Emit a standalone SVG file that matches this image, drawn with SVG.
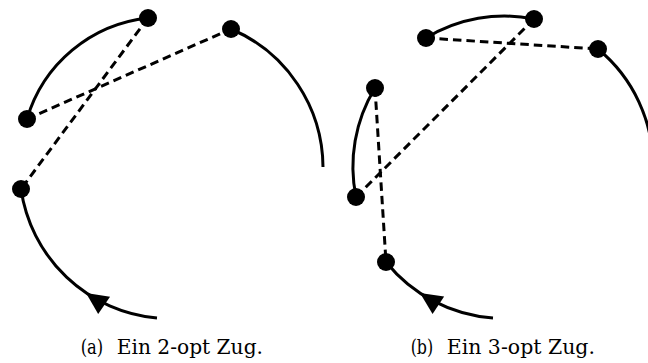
<svg xmlns="http://www.w3.org/2000/svg" width="648" height="363" viewBox="0 0 648 363">
  <style>
    .tour { fill: none; stroke: #000; stroke-width: 3; }
    .swap { fill: none; stroke: #000; stroke-width: 3; stroke-dasharray: 8.5 5; }
    .city { fill: #000; }
    .caption { font-family: "DejaVu Serif", "Liberation Serif", serif; font-size: 20px; fill: #000; }
  </style>
  <defs>
    <!-- arrowhead pointing along +x, tip at origin -->
    <path id="head" d="M0,0 L-22,-10.5 L-22,10.5 Z" fill="#000"/>
  </defs>
  <rect width="648" height="363" fill="#fff"/>

  <!-- (a) 2-opt move -->
  <g id="edges-a">
    <path class="tour" d="M27,119 A142,142 0 0 1 148,18"/>
    <path class="tour" d="M231,29 A151,151 0 0 1 323,167"/>
    <path class="tour" d="M21,189 A151,151 0 0 0 157,318"/>
    <use href="#head" transform="translate(86,293) rotate(214.5)"/>
    <line class="swap" x1="148" y1="18" x2="21" y2="189"/>
    <line class="swap" x1="27" y1="119" x2="231" y2="29"/>
  </g>
  <g id="a1"><circle class="city" cx="148" cy="18" r="9"/></g>
  <g id="a2"><circle class="city" cx="231" cy="29" r="9"/></g>
  <g id="a3"><circle class="city" cx="27" cy="119" r="9"/></g>
  <g id="a4"><circle class="city" cx="21" cy="189" r="9"/></g>

  <!-- (b) 3-opt move -->
  <g id="edges-b">
    <path class="tour" d="M426,38 A151,151 0 0 1 534,19"/>
    <path class="tour" d="M598,49 A151,151 0 0 1 653,167"/>
    <path class="tour" d="M375,88 A151,151 0 0 0 356,197"/>
    <path class="tour" d="M386,262 A151,151 0 0 0 493,318"/>
    <use href="#head" transform="translate(420,293) rotate(213.5)"/>
    <line class="swap" x1="426" y1="38" x2="598" y2="49"/>
    <line class="swap" x1="534" y1="19" x2="356" y2="197"/>
    <line class="swap" x1="375" y1="88" x2="386" y2="262"/>
  </g>
  <g id="b1"><circle class="city" cx="426" cy="38" r="9"/></g>
  <g id="b2"><circle class="city" cx="534" cy="19" r="9"/></g>
  <g id="b3"><circle class="city" cx="598" cy="49" r="9"/></g>
  <g id="b4"><circle class="city" cx="375" cy="88" r="9"/></g>
  <g id="b5"><circle class="city" cx="356" cy="197" r="9"/></g>
  <g id="b6"><circle class="city" cx="386" cy="262" r="9"/></g>

  <!-- captions -->
  <g id="caption-a">
    <text class="caption" x="80.7" y="354" textLength="22.5" lengthAdjust="spacingAndGlyphs">(a)</text>
    <text class="caption" x="116.7" y="354" textLength="146.3" lengthAdjust="spacingAndGlyphs">Ein 2-opt Zug.</text>
  </g>
  <g id="caption-b">
    <text class="caption" x="410.7" y="354" textLength="22.5" lengthAdjust="spacingAndGlyphs">(b)</text>
    <text class="caption" x="446.7" y="354" textLength="148.3" lengthAdjust="spacingAndGlyphs">Ein 3-opt Zug.</text>
  </g>
</svg>
